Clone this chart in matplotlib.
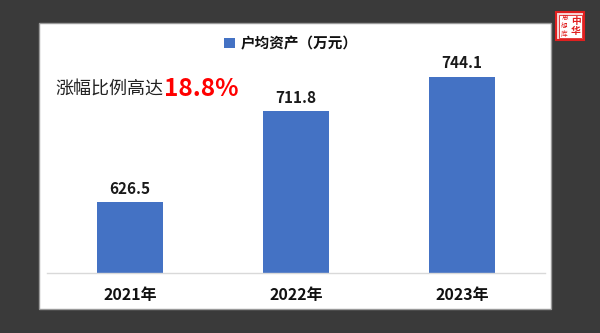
import matplotlib.pyplot as plt
from matplotlib.patches import Rectangle

plt.rcParams['font.family'] = ['Noto Sans CJK SC', 'DejaVu Sans']

years = ['2021年', '2022年', '2023年']
assets = [626.5, 711.8, 744.1]
series_name = '户均资产（万元）'
note = '涨幅比例高达'
growth = '18.8%'

W, H = 600, 333
fig = plt.figure(figsize=(6, 3.33), dpi=100)
fig.patch.set_facecolor('#3a3a3a')

# white panel (behind the axes)
fig.patches.append(Rectangle((39 / W, 1 - 309 / H), 512 / W, 286 / H,
                             transform=fig.transFigure, facecolor='white',
                             edgecolor='#9a9a9a', linewidth=1.0, zorder=-10))

# seal, top right
fig.patches.append(Rectangle((556 / W, 1 - 40 / H), 28 / W, 28 / H,
                             transform=fig.transFigure, facecolor='#f6d6d6',
                             edgecolor='#e02020', linewidth=1.5, zorder=-5))
fig.patches.append(Rectangle((558.5 / W, 1 - 37.5 / H), 23 / W, 23 / H,
                             transform=fig.transFigure, facecolor='white',
                             edgecolor='#e02020', linewidth=0.6, zorder=-4))
fig.text(576 / W, 1 - 26 / H, '中\n华', color='#e02020', fontsize=7,
         fontweight='bold', ha='center', va='center', linespacing=1.05)
fig.text(564.5 / W, 1 - 26 / H, '思\n想\n库', color='#e02020', fontsize=4.8,
         ha='center', va='center', linespacing=1.05)

ax = fig.add_axes([47 / W, 1 - 273 / H, 498 / W, 240 / H])
ax.set_facecolor('none')
x = range(len(years))
bars = ax.bar(x, assets, width=0.40, color='#4472C4', label=series_name, zorder=2)
ax.set_xlim(-0.5, 2.5)
ax.set_ylim(560, 785)

for xi, v in zip(x, assets):
    ax.annotate(f'{v:.1f}', (xi, v), xytext=(0, 4), textcoords='offset points',
                ha='center', va='bottom', fontsize=11, fontweight='heavy',
                color='#1a1a1a', annotation_clip=False)

ax.set_xticks(list(x))
ax.set_xticklabels(years, fontsize=11.5, fontweight='heavy', color='#111111')
ax.tick_params(axis='x', length=0, pad=10)
ax.set_yticks([])
for s in ['top', 'left', 'right']:
    ax.spines[s].set_visible(False)
ax.spines['bottom'].set_color('#d9d9d9')
ax.spines['bottom'].set_linewidth(1.0)

leg = fig.legend(handles=[bars], labels=[series_name], loc='center',
                 bbox_to_anchor=(291 / W, 1 - 43 / H), frameon=False,
                 handlelength=0.75, handleheight=0.75, handletextpad=0.4,
                 prop={'size': 10.5, 'weight': 'heavy'})
for t in leg.get_texts():
    t.set_color('#111111')

fig.text(55 / W, 1 - 90 / H, note, fontsize=13, color='#222222',
         ha='left', va='center')
fig.text(164 / W, 1 - 89 / H, growth, fontsize=17.5, fontweight='heavy',
         color='#ff0000', ha='left', va='center')

fig.savefig('out.png', dpi=100, facecolor=fig.get_facecolor())
